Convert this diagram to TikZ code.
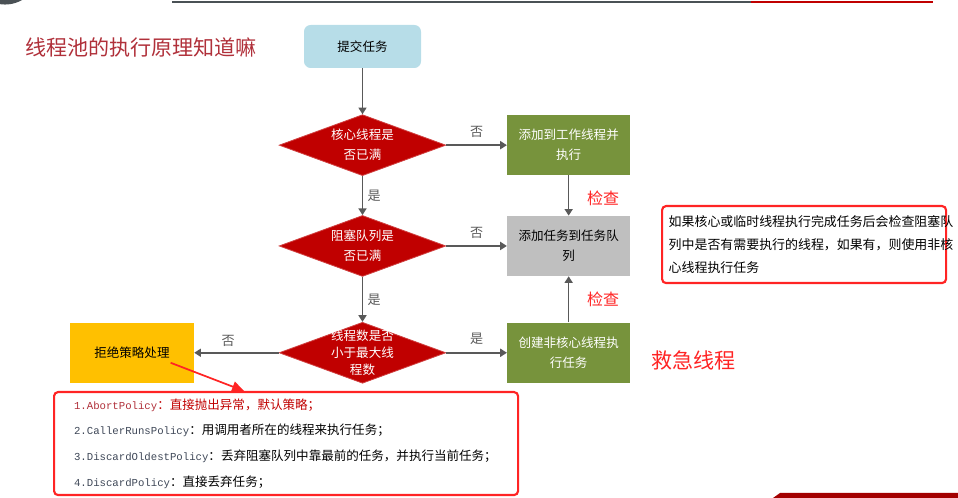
\documentclass[tikz,border=0pt]{standalone}
\usepackage{fontspec}
\setmainfont{Noto Sans CJK SC}
\setmonofont{Liberation Mono}
\usetikzlibrary{arrows.meta,positioning,shapes.geometric}
\definecolor{flowgray}{HTML}{595959}
\definecolor{darkred}{HTML}{C00000}
\definecolor{leafgreen}{HTML}{77933C}
\definecolor{lightblue}{HTML}{B7DDE8}
\definecolor{queuegray}{HTML}{BFBFBF}
\definecolor{amber}{HTML}{FFC000}
\definecolor{alert}{HTML}{FF2424}
\definecolor{titlered}{HTML}{B0303A}
\definecolor{codeblue}{HTML}{3E4757}
\definecolor{barline}{HTML}{4A5155}
\newcommand{\polname}[1]{{\fontsize{8}{19.3}\ttfamily #1}}
\tikzset{
  startbox/.style={fill=lightblue, rounded corners=5pt, minimum width=87.75pt,
                   minimum height=32.25pt, font=\fontsize{9.4}{12}\selectfont},
  decision/.style={diamond, fill=darkred, draw=darkred!75!white, line width=0.6pt,
                   minimum width=125pt, minimum height=45.75pt, inner sep=0pt},
  dtext/.style={text=white, align=center, inner sep=0pt, font=\fontsize{9.4}{15}\selectfont},
  actbox/.style={minimum width=92.25pt, minimum height=45pt, inner sep=0pt,
                 align=center, font=\fontsize{9.4}{15}\selectfont},
  flow/.style={-{Triangle[length=5pt,width=6pt]}, line width=1.2pt, flowgray},
  yn/.style={font=\fontsize{9.8}{12}\selectfont},
  check/.style={text=alert, font=\fontsize{12}{14}\selectfont},
  notebox/.style={draw=alert, line width=1.6pt, rounded corners=3pt, align=left}
}
\begin{document}
\begin{tikzpicture}[x=0.75pt, y=-0.75pt]
  \useasboundingbox (0,0) rectangle (958,498);
  \clip (0,0) rectangle (958,498);
  \fill[barline] (5,-30) circle[radius=25.9pt];
  \draw[barline, line width=1.5pt] (172,2) -- (751,2);
  \draw[darkred, line width=1.5pt] (751,2) -- (933,2);
  \fill[darkred!85!black] (773,498) -- (780,493) -- (958,493) -- (958,498) -- cycle;

  \node[anchor=west, inner sep=0pt, text=titlered, font=\fontsize{15.8}{18}\selectfont]
    (title) at (25,47) {线程池的执行原理知道嘛};

  \node[startbox] (submit) at (362.5,46.5) {提交任务};
  \node[decision, below=34.5pt of submit, label={[dtext]center:核心线程是\\否已满}] (core) {};
  \node[decision, below=29.25pt of core, label={[dtext]center:阻塞队列是\\否已满}] (queue) {};
  \node[decision, below=33.75pt of queue,
        label={[dtext, font=\fontsize{9.4}{13}\selectfont]center:线程数是否\\小于最大线\\程数}] (maxth) {};
  \node[actbox, fill=leafgreen, text=white, right=45.5pt of core] (addwork) {添加到工作线程并\\执行};
  \node[actbox, fill=queuegray, right=45.5pt of queue] (addqueue) {添加任务到任务队\\列};
  \node[actbox, fill=leafgreen, text=white, right=45.5pt of maxth] (newth) {创建非核心线程执\\行任务};
  \node[actbox, fill=amber, minimum width=93pt, left=63.4pt of maxth] (reject) {拒绝策略处理};
  \node[right=12pt of newth, yshift=-5.6pt, text=alert, font=\fontsize{15.8}{18}\selectfont] (emergency) {救急线程};

  \draw[flow] (submit) -- (core);
  \draw[flow] (core) -- node[yn, right]{是} (queue);
  \draw[flow] (queue) -- node[yn, right]{是} (maxth);
  \draw[flow] (core) -- node[yn, above, yshift=2pt]{否} (addwork);
  \draw[flow] (queue) -- node[yn, above, yshift=2pt]{否} (addqueue);
  \draw[flow] (maxth) -- node[yn, above, yshift=2pt]{是} (newth);
  \draw[flow] (maxth) -- node[yn, above, yshift=1pt, pos=0.6]{否} (reject);
  \draw[flow] (addwork) -- node[check, right=10pt, yshift=-2pt]{检查} (addqueue);
  \draw[flow] (newth) -- node[check, right=10pt]{检查} (addqueue);

  \node[notebox, anchor=north west, text width=203pt, inner xsep=5pt,
        minimum height=57.75pt, font=\fontsize{9.7}{17.6}\selectfont] (note) at (661,205)
    {如果核心或临时线程执行完成任务后会检查阻塞队\\列中是否有需要执行的线程，如果有，则使用非核\\心线程执行任务};

  \node[notebox, anchor=north west, text width=318pt, inner xsep=15pt,
        minimum height=77.25pt, font=\fontsize{9.4}{19.3}\selectfont] (policy) at (53,391)
    {{\color{darkred}\polname{\color{titlered}1.AbortPolicy}：直接抛出异常，默认策略；}\\
     \polname{\color{codeblue}2.CallerRunsPolicy}：用调用者所在的线程来执行任务；\\
     \polname{\color{codeblue}3.DiscardOldestPolicy}：丢弃阻塞队列中靠最前的任务，并执行当前任务；\\
     \polname{\color{codeblue}4.DiscardPolicy}：直接丢弃任务；};

  \draw[alert, line width=1.3pt, -{Triangle[length=9pt,width=8pt]}]
    ([shift={(29pt,-7.5pt)}]reject.center) -- ([xshift=-31.5pt]policy.north);
\end{tikzpicture}
\end{document}
